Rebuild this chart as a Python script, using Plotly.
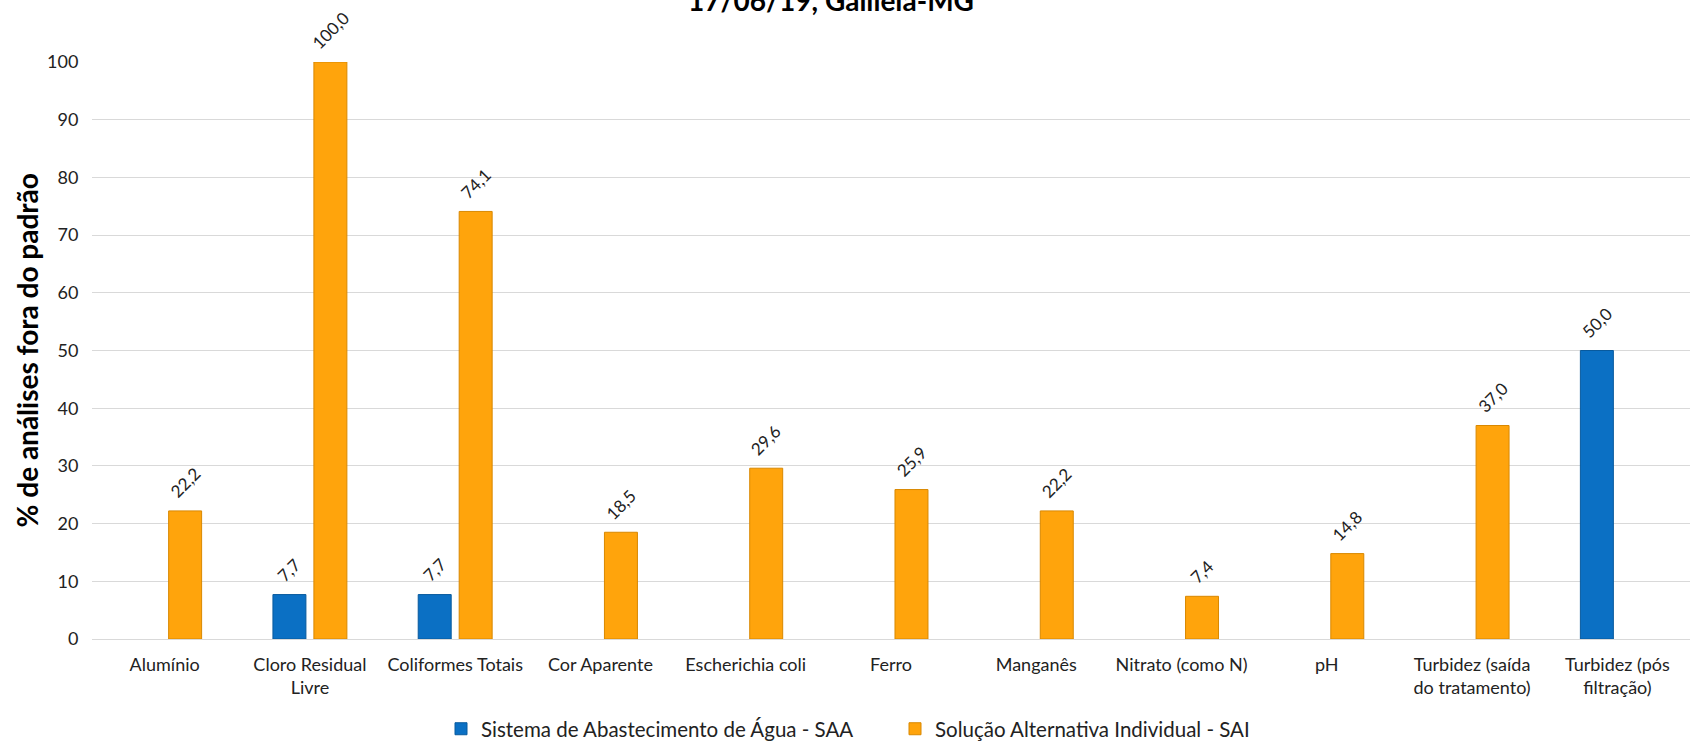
import plotly.graph_objects as go

categories = ["Alumínio", "Cloro Residual<br>Livre", "Coliformes Totais", "Cor Aparente",
              "Escherichia coli", "Ferro", "Manganês", "Nitrato (como N)", "pH",
              "Turbidez (saída<br>do tratamento)", "Turbidez (pós<br>filtração)"]
saa_values = [None, 7.7, 7.7, None, None, None, None, None, None, None, 50.0]
sai_values = [22.2, 100.0, 74.1, 18.5, 29.6, 25.9, 22.2, 7.4, 14.8, 37.0, None]
series_names = ["Sistema de Abastecimento de Água - SAA", "Solução Alternativa Individual - SAI"]
y_ticks = [0, 10, 20, 30, 40, 50, 60, 70, 80, 90, 100]

FONT = "Lato, 'Open Sans', Arial, sans-serif"
W, H = 1692, 741
L, R, T, B = 92, 2, 61.5, 102
pw = W - L - R
ph = H - T - B
BARGAP, GROUPGAP = 0.436, 0.195
cat_px = pw / len(categories)
half_slot_px = (1 - BARGAP) / 4 * cat_px

fig = go.Figure()
fig.add_trace(go.Bar(
    x=categories, y=saa_values, name=series_names[0],
    marker=dict(color="#0B70C4", line=dict(color="#085A9E", width=1)),
))
fig.add_trace(go.Bar(
    x=categories, y=sai_values, name=series_names[1],
    marker=dict(color="#FFA40C", line=dict(color="#D98800", width=1)),
))

# data labels, rotated, above each bar
for vals, sign in ((saa_values, -1), (sai_values, 1)):
    for cat, v in zip(categories, vals):
        if v is None:
            continue
        fig.add_annotation(
            x=cat, y=v, xref="x", yref="y",
            text=f"{v:.1f}".replace(".", ","), textangle=-45,
            xanchor="center", yanchor="bottom", showarrow=False,
            xshift=sign * half_slot_px, yshift=6,
            font=dict(family=FONT, size=17, color="#222222"),
        )

fig.update_layout(
    width=W, height=H,
    margin=dict(l=L, r=R, t=T, b=B, autoexpand=False),
    paper_bgcolor="white", plot_bgcolor="white",
    barmode="group", bargap=BARGAP, bargroupgap=GROUPGAP,
    separators=",.",
    font=dict(family=FONT, size=16, color="#222222"),
    showlegend=True,
    legend=dict(orientation="h", x=(441 - L) / pw, xanchor="left",
                y=(H - B - 729) / ph, yanchor="middle",
                font=dict(family=FONT, size=20.5, color="#222222"),
                itemwidth=30, entrywidth=409, entrywidthmode="pixels",
                traceorder="normal"),
    xaxis=dict(range=[-0.5, 10.5], showgrid=False, showline=False, zeroline=False,
               automargin=False,
               ticks="outside", ticklen=9, tickcolor="rgba(0,0,0,0)",
               tickfont=dict(family=FONT, size=18, color="#222222")),
    yaxis=dict(range=[0, 100], tickvals=y_ticks, showgrid=True, gridcolor="#D9D9D9",
               automargin=False,
               gridwidth=1, zeroline=True, zerolinecolor="#D9D9D9", zerolinewidth=1,
               showline=False, ticks="outside", ticklen=9, tickcolor="rgba(0,0,0,0)",
               tickfont=dict(family=FONT, size=18, color="#222222")),
)

fig.add_annotation(
    text="<b>% de análises fora do padrão</b>", textangle=-90,
    xref="paper", yref="paper", x=(26 - L) / pw, y=0.5,
    xanchor="center", yanchor="middle", showarrow=False,
    font=dict(family=FONT, size=28, color="#000000"),
)
fig.add_annotation(
    text="<b>17/06/19, Galiléia-MG</b>",
    xref="paper", yref="paper", x=(831 - L) / pw, y=(H - B - 18) / ph,
    xanchor="center", yanchor="bottom", showarrow=False,
    font=dict(family=FONT, size=28, color="#000000"),
)

fig.write_html("out.html", config={"displayModeBar": False},
               post_script="document.body.style.margin='0';document.body.style.overflow='hidden';")
